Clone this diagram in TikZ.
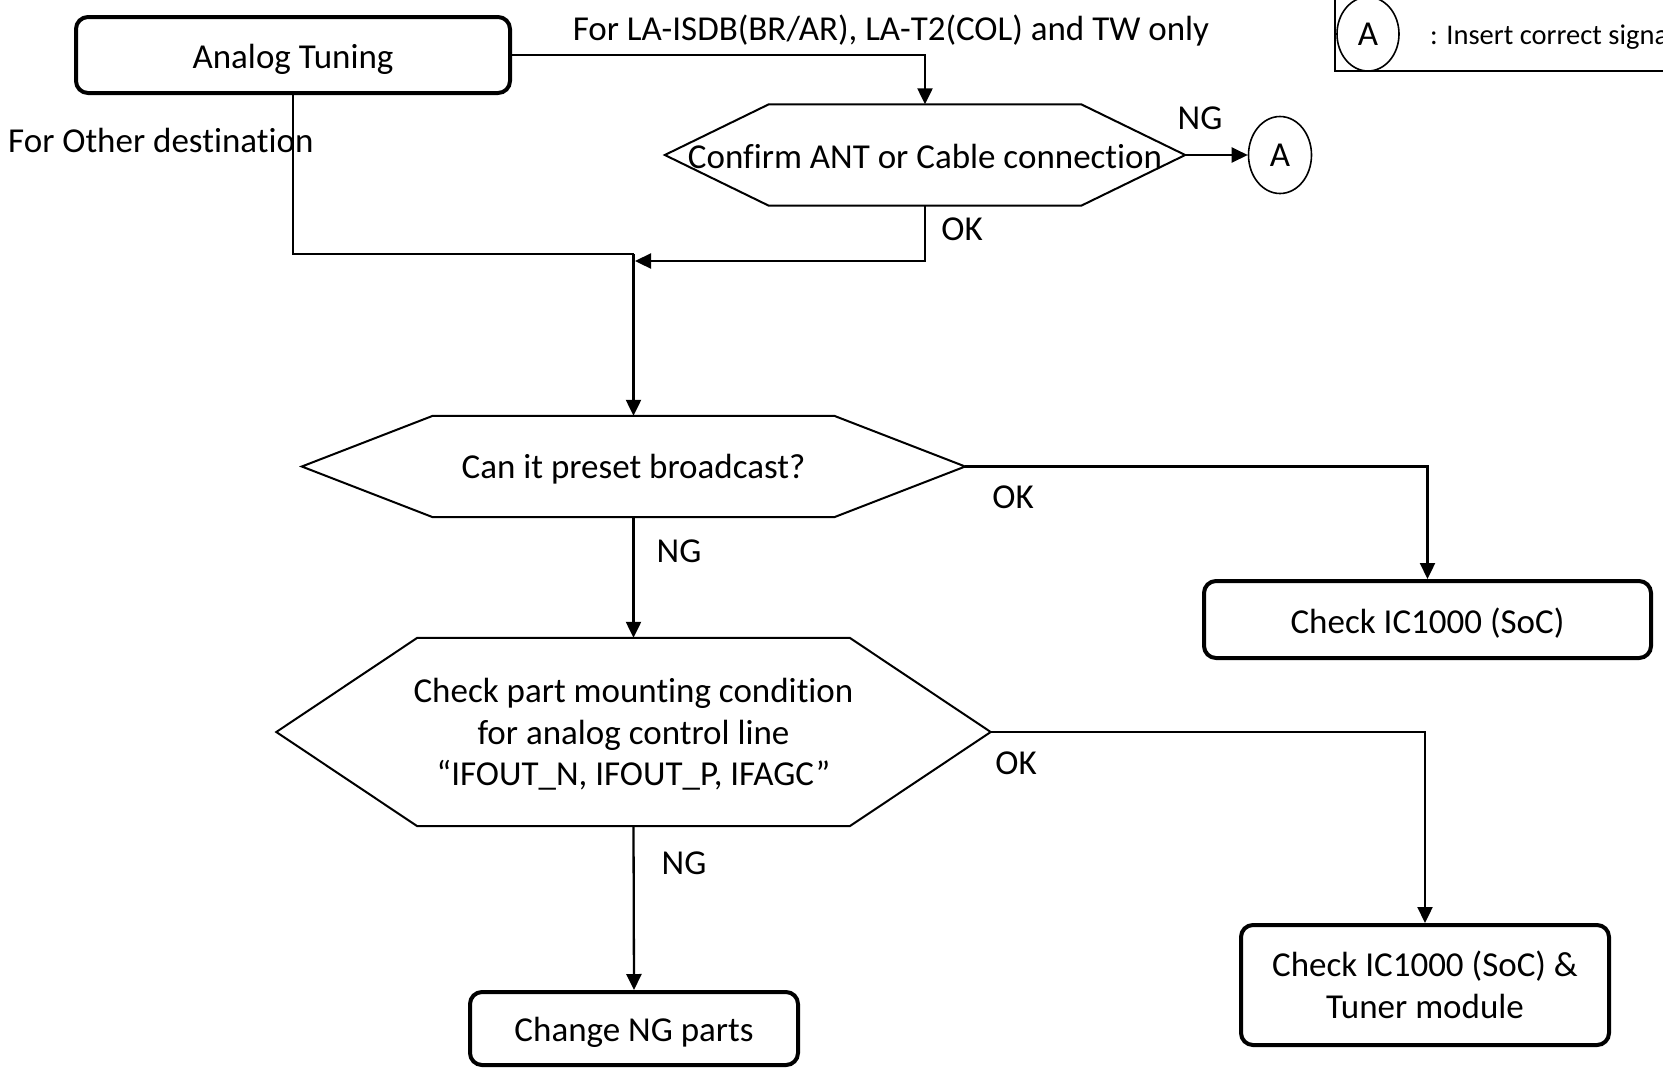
\documentclass[tikz,border=0pt]{standalone}
\usepackage{fontspec}
\setmainfont{Carlito}[Ligatures=NoCommon]
\usetikzlibrary{arrows.meta,calc,shapes.geometric}
\newcommand{\lowered}[2][4pt]{\raisebox{-#1}[\height][\depth]{#2}}
\begin{document}
\begin{tikzpicture}[x=1pt,y=-1pt,
  font=\fontsize{35}{41.5}\selectfont,
  box/.style={draw, line width=4pt, rounded corners=12pt, align=center, inner sep=0pt},
  conn/.style={line width=2.3pt},
  arr/.style={conn, -{Triangle[length=16pt,width=15pt]}},
  lbl/.style={inner sep=0pt},
  hexnode/.style={inner sep=0pt, align=center},
  hexline/.style={line width=2pt, line join=miter},
  circ/.style={draw, ellipse, line width=1.6pt, inner sep=0pt},
]
\useasboundingbox (0,0) rectangle (1663,1072);

% legend
\draw[line width=2pt] (1335,-10) -- (1335,71) -- (1700,71);
\node[circ, minimum width=62pt, minimum height=74pt] (legA) at (1368,34) {A};
\node[lbl, anchor=west] (legtxt) at (1430,37) {\fontsize{28.5}{34}\selectfont : Insert correct signal};

% boxes
\node[box, minimum width=434pt, minimum height=76pt] (an) at (293,55) {\lowered{Analog Tuning}};
\node[box, minimum width=447pt, minimum height=77pt] (c1) at (1427.5,619.5) {\lowered{Check IC1000 (SoC)}};
\node[box, minimum width=368pt, minimum height=120pt] (c2) at (1425,985) {Check IC1000 (SoC) \&\\Tuner module};
\node[box, minimum width=328pt, minimum height=73pt] (c3) at (634,1028.5) {\lowered{Change NG parts}};

% hexagons
\node[hexnode, minimum width=520pt, minimum height=101pt] (q0) at (925,155) {\lowered[1.5pt]{Confirm ANT or Cable connection}};
\node[hexnode, minimum width=663pt, minimum height=101pt] (q1) at (633.5,466.5) {\lowered[3pt]{Can it preset broadcast?}};
\node[hexnode, minimum width=714pt, minimum height=188pt] (q2) at (633.5,732) {\lowered{\begin{tabular}{@{}c@{}}Check part mounting condition\\for analog control line\\“IFOUT\_N, IFOUT\_P, IFAGC”\end{tabular}}};
\foreach \q/\ins in {q0/104, q1/131, q2/141}{
  \draw[hexline] (\q.west) -- ($(\q.north west)+(\ins,0)$) -- ($(\q.north east)+(-\ins,0)$) -- (\q.east)
    -- ($(\q.south east)+(-\ins,0)$) -- ($(\q.south west)+(\ins,0)$) -- cycle;
}

\node[circ, minimum width=63pt, minimum height=77pt] (A) at (1280,155) {A};

% junctions
\coordinate (j1) at (633.5,254);
\coordinate (j2) at (635,261);

% connectors
\draw[arr] (an.east) -| (q0.north);
\draw[conn] (an.south) |- (j1);
\draw[arr] (j1) -- (q1.north);
\draw[arr] (q0.south) |- (j2);
\draw[arr] (q0.east) -- (A.west);
\draw[arr] (q1.east) -| (c1.north);
\draw[arr] (q1.south) -- (q2.north);
\draw[arr] (q2.east) -| (c2.north);
\draw[arr] (q2.south) -- (c3.north);

% labels
\node[lbl] (t1) at (891,31) {For LA-ISDB(BR/AR), LA-T2(COL) and TW only};
\node[lbl, anchor=west] (t2) at (8,140) {For Other destination};
\node[lbl] (l1) at (1200,118) {NG};
\node[lbl] (l2) at (962,229) {OK};
\node[lbl] (l3) at (1013,497) {OK};
\node[lbl] (l4) at (679,551) {NG};
\node[lbl] (l5) at (1016,763) {OK};
\node[lbl] (l6) at (684,863) {NG};
\end{tikzpicture}
\end{document}
